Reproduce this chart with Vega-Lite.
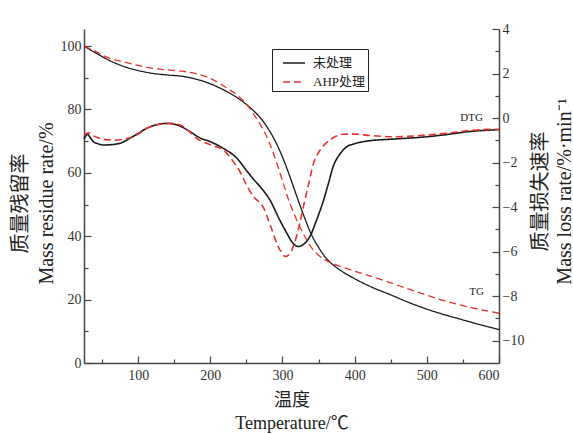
{
  "$schema": "https://vega.github.io/schema/vega-lite/v6.json",
  "width": 415,
  "height": 334,
  "autosize": "none",
  "padding": {"left": 84, "top": 29, "right": 74, "bottom": 71},
  "background": "white",
  "config": {
    "view": {"stroke": null},
    "font": "Liberation Serif, Noto Sans CJK SC",
    "axis": {
      "labelFont": "Liberation Serif",
      "labelFontSize": 14,
      "labelColor": "#333",
      "domainColor": "#444",
      "domainWidth": 1.5,
      "tickColor": "#444",
      "tickWidth": 1.2,
      "grid": false,
      "titleFont": "Liberation Serif, Noto Sans CJK SC",
      "titleFontSize": 20,
      "titleFontWeight": "normal",
      "titleColor": "#222"
    },
    "legend": {
      "title": null,
      "orient": "none",
      "legendX": 188,
      "legendY": 20,
      "symbolType": "stroke",
      "symbolSize": 484,
      "symbolStrokeWidth": 1.6,
      "symbolOffset": 8,
      "labelFont": "Liberation Serif, Noto Sans CJK SC",
      "labelFontSize": 13,
      "labelColor": "#222",
      "strokeColor": "#222",
      "padding": 2,
      "rowPadding": -8,
      "labelOffset": 7
    }
  },
  "datasets": {
    "curves": [
      {"T": 25, "v": 100, "type": "TG", "处理": "未处理"},
      {"T": 40, "v": 98, "type": "TG", "处理": "未处理"},
      {"T": 60, "v": 95.5, "type": "TG", "处理": "未处理"},
      {"T": 80, "v": 93.6, "type": "TG", "处理": "未处理"},
      {"T": 100, "v": 92.3, "type": "TG", "处理": "未处理"},
      {"T": 120, "v": 91.4, "type": "TG", "处理": "未处理"},
      {"T": 140, "v": 90.9, "type": "TG", "处理": "未处理"},
      {"T": 160, "v": 90.5, "type": "TG", "处理": "未处理"},
      {"T": 180, "v": 89.6, "type": "TG", "处理": "未处理"},
      {"T": 200, "v": 88.1, "type": "TG", "处理": "未处理"},
      {"T": 220, "v": 86, "type": "TG", "处理": "未处理"},
      {"T": 240, "v": 83.3, "type": "TG", "处理": "未处理"},
      {"T": 260, "v": 79.6, "type": "TG", "处理": "未处理"},
      {"T": 270, "v": 77.2, "type": "TG", "处理": "未处理"},
      {"T": 280, "v": 74, "type": "TG", "处理": "未处理"},
      {"T": 290, "v": 70, "type": "TG", "处理": "未处理"},
      {"T": 300, "v": 65, "type": "TG", "处理": "未处理"},
      {"T": 310, "v": 59, "type": "TG", "处理": "未处理"},
      {"T": 320, "v": 52.5, "type": "TG", "处理": "未处理"},
      {"T": 330, "v": 46.2, "type": "TG", "处理": "未处理"},
      {"T": 340, "v": 40.6, "type": "TG", "处理": "未处理"},
      {"T": 350, "v": 36.5, "type": "TG", "处理": "未处理"},
      {"T": 360, "v": 33.2, "type": "TG", "处理": "未处理"},
      {"T": 370, "v": 31, "type": "TG", "处理": "未处理"},
      {"T": 380, "v": 29.3, "type": "TG", "处理": "未处理"},
      {"T": 400, "v": 26.6, "type": "TG", "处理": "未处理"},
      {"T": 425, "v": 23.8, "type": "TG", "处理": "未处理"},
      {"T": 450, "v": 21.5, "type": "TG", "处理": "未处理"},
      {"T": 475, "v": 19.1, "type": "TG", "处理": "未处理"},
      {"T": 500, "v": 17, "type": "TG", "处理": "未处理"},
      {"T": 525, "v": 15.2, "type": "TG", "处理": "未处理"},
      {"T": 550, "v": 13.6, "type": "TG", "处理": "未处理"},
      {"T": 575, "v": 12, "type": "TG", "处理": "未处理"},
      {"T": 600, "v": 10.5, "type": "TG", "处理": "未处理"},

      {"T": 25, "v": 100, "type": "TG", "处理": "AHP处理"},
      {"T": 40, "v": 98.4, "type": "TG", "处理": "AHP处理"},
      {"T": 60, "v": 96.2, "type": "TG", "处理": "AHP处理"},
      {"T": 80, "v": 95, "type": "TG", "处理": "AHP处理"},
      {"T": 100, "v": 93.9, "type": "TG", "处理": "AHP处理"},
      {"T": 120, "v": 93, "type": "TG", "处理": "AHP处理"},
      {"T": 140, "v": 92.5, "type": "TG", "处理": "AHP处理"},
      {"T": 160, "v": 92.1, "type": "TG", "处理": "AHP处理"},
      {"T": 180, "v": 91.3, "type": "TG", "处理": "AHP处理"},
      {"T": 200, "v": 89.8, "type": "TG", "处理": "AHP处理"},
      {"T": 220, "v": 87.2, "type": "TG", "处理": "AHP处理"},
      {"T": 240, "v": 84, "type": "TG", "处理": "AHP处理"},
      {"T": 250, "v": 81.8, "type": "TG", "处理": "AHP处理"},
      {"T": 260, "v": 78.5, "type": "TG", "处理": "AHP处理"},
      {"T": 270, "v": 75, "type": "TG", "处理": "AHP处理"},
      {"T": 280, "v": 70.5, "type": "TG", "处理": "AHP处理"},
      {"T": 290, "v": 64.5, "type": "TG", "处理": "AHP处理"},
      {"T": 300, "v": 57.5, "type": "TG", "处理": "AHP处理"},
      {"T": 310, "v": 50.5, "type": "TG", "处理": "AHP处理"},
      {"T": 320, "v": 45, "type": "TG", "处理": "AHP处理"},
      {"T": 330, "v": 40.3, "type": "TG", "处理": "AHP处理"},
      {"T": 340, "v": 36.5, "type": "TG", "处理": "AHP处理"},
      {"T": 350, "v": 34, "type": "TG", "处理": "AHP处理"},
      {"T": 360, "v": 32.4, "type": "TG", "处理": "AHP处理"},
      {"T": 370, "v": 31.4, "type": "TG", "处理": "AHP处理"},
      {"T": 380, "v": 30.5, "type": "TG", "处理": "AHP处理"},
      {"T": 400, "v": 29, "type": "TG", "处理": "AHP处理"},
      {"T": 425, "v": 27.2, "type": "TG", "处理": "AHP处理"},
      {"T": 450, "v": 25.3, "type": "TG", "处理": "AHP处理"},
      {"T": 475, "v": 23.3, "type": "TG", "处理": "AHP处理"},
      {"T": 500, "v": 21.4, "type": "TG", "处理": "AHP处理"},
      {"T": 525, "v": 19.6, "type": "TG", "处理": "AHP处理"},
      {"T": 550, "v": 18.1, "type": "TG", "处理": "AHP处理"},
      {"T": 575, "v": 16.8, "type": "TG", "处理": "AHP处理"},
      {"T": 600, "v": 15.7, "type": "TG", "处理": "AHP处理"},

      {"T": 25, "v": -0.93, "type": "DTG", "处理": "未处理"},
      {"T": 28, "v": -0.78, "type": "DTG", "处理": "未处理"},
      {"T": 30, "v": -0.72, "type": "DTG", "处理": "未处理"},
      {"T": 33, "v": -0.85, "type": "DTG", "处理": "未处理"},
      {"T": 38, "v": -1.06, "type": "DTG", "处理": "未处理"},
      {"T": 45, "v": -1.16, "type": "DTG", "处理": "未处理"},
      {"T": 52, "v": -1.21, "type": "DTG", "处理": "未处理"},
      {"T": 60, "v": -1.2, "type": "DTG", "处理": "未处理"},
      {"T": 75, "v": -1.13, "type": "DTG", "处理": "未处理"},
      {"T": 89, "v": -0.9, "type": "DTG", "处理": "未处理"},
      {"T": 100, "v": -0.69, "type": "DTG", "处理": "未处理"},
      {"T": 112, "v": -0.46, "type": "DTG", "处理": "未处理"},
      {"T": 125, "v": -0.3, "type": "DTG", "处理": "未处理"},
      {"T": 140, "v": -0.24, "type": "DTG", "处理": "未处理"},
      {"T": 155, "v": -0.32, "type": "DTG", "处理": "未处理"},
      {"T": 172, "v": -0.61, "type": "DTG", "处理": "未处理"},
      {"T": 185, "v": -0.88, "type": "DTG", "处理": "未处理"},
      {"T": 200, "v": -1.06, "type": "DTG", "处理": "未处理"},
      {"T": 218, "v": -1.36, "type": "DTG", "处理": "未处理"},
      {"T": 237, "v": -1.81, "type": "DTG", "处理": "未处理"},
      {"T": 250, "v": -2.35, "type": "DTG", "处理": "未处理"},
      {"T": 260, "v": -2.75, "type": "DTG", "处理": "未处理"},
      {"T": 270, "v": -3.12, "type": "DTG", "处理": "未处理"},
      {"T": 283, "v": -3.7, "type": "DTG", "处理": "未处理"},
      {"T": 295, "v": -4.5, "type": "DTG", "处理": "未处理"},
      {"T": 306, "v": -5.17, "type": "DTG", "处理": "未处理"},
      {"T": 314, "v": -5.6, "type": "DTG", "处理": "未处理"},
      {"T": 322, "v": -5.77, "type": "DTG", "处理": "未处理"},
      {"T": 330, "v": -5.65, "type": "DTG", "处理": "未处理"},
      {"T": 338, "v": -5.32, "type": "DTG", "处理": "未处理"},
      {"T": 347, "v": -4.6, "type": "DTG", "处理": "未处理"},
      {"T": 357, "v": -3.68, "type": "DTG", "处理": "未处理"},
      {"T": 364, "v": -2.9, "type": "DTG", "处理": "未处理"},
      {"T": 370, "v": -2.2, "type": "DTG", "处理": "未处理"},
      {"T": 380, "v": -1.6, "type": "DTG", "处理": "未处理"},
      {"T": 390, "v": -1.27, "type": "DTG", "处理": "未处理"},
      {"T": 400, "v": -1.15, "type": "DTG", "处理": "未处理"},
      {"T": 420, "v": -1.02, "type": "DTG", "处理": "未处理"},
      {"T": 450, "v": -0.95, "type": "DTG", "处理": "未处理"},
      {"T": 500, "v": -0.84, "type": "DTG", "处理": "未处理"},
      {"T": 530, "v": -0.73, "type": "DTG", "处理": "未处理"},
      {"T": 555, "v": -0.62, "type": "DTG", "处理": "未处理"},
      {"T": 600, "v": -0.52, "type": "DTG", "处理": "未处理"},

      {"T": 25, "v": -0.76, "type": "DTG", "处理": "AHP处理"},
      {"T": 29, "v": -0.68, "type": "DTG", "处理": "AHP处理"},
      {"T": 32, "v": -0.66, "type": "DTG", "处理": "AHP处理"},
      {"T": 37, "v": -0.78, "type": "DTG", "处理": "AHP处理"},
      {"T": 47, "v": -0.91, "type": "DTG", "处理": "AHP处理"},
      {"T": 55, "v": -0.97, "type": "DTG", "处理": "AHP处理"},
      {"T": 66, "v": -0.99, "type": "DTG", "处理": "AHP处理"},
      {"T": 80, "v": -0.95, "type": "DTG", "处理": "AHP处理"},
      {"T": 89, "v": -0.88, "type": "DTG", "处理": "AHP处理"},
      {"T": 100, "v": -0.72, "type": "DTG", "处理": "AHP处理"},
      {"T": 112, "v": -0.46, "type": "DTG", "处理": "AHP处理"},
      {"T": 130, "v": -0.28, "type": "DTG", "处理": "AHP处理"},
      {"T": 144, "v": -0.24, "type": "DTG", "处理": "AHP处理"},
      {"T": 158, "v": -0.31, "type": "DTG", "处理": "AHP处理"},
      {"T": 170, "v": -0.58, "type": "DTG", "处理": "AHP处理"},
      {"T": 181, "v": -0.91, "type": "DTG", "处理": "AHP处理"},
      {"T": 192, "v": -1.1, "type": "DTG", "处理": "AHP处理"},
      {"T": 204, "v": -1.24, "type": "DTG", "处理": "AHP处理"},
      {"T": 218, "v": -1.43, "type": "DTG", "处理": "AHP处理"},
      {"T": 232, "v": -1.96, "type": "DTG", "处理": "AHP处理"},
      {"T": 241, "v": -2.4, "type": "DTG", "处理": "AHP处理"},
      {"T": 250, "v": -3.0, "type": "DTG", "处理": "AHP处理"},
      {"T": 260, "v": -3.53, "type": "DTG", "处理": "AHP处理"},
      {"T": 273, "v": -3.98, "type": "DTG", "处理": "AHP处理"},
      {"T": 283, "v": -4.8, "type": "DTG", "处理": "AHP处理"},
      {"T": 292, "v": -5.62, "type": "DTG", "处理": "AHP处理"},
      {"T": 298, "v": -6.0, "type": "DTG", "处理": "AHP处理"},
      {"T": 304, "v": -6.22, "type": "DTG", "处理": "AHP处理"},
      {"T": 310, "v": -6.1, "type": "DTG", "处理": "AHP处理"},
      {"T": 315, "v": -5.77, "type": "DTG", "处理": "AHP处理"},
      {"T": 322, "v": -5.0, "type": "DTG", "处理": "AHP处理"},
      {"T": 329, "v": -3.98, "type": "DTG", "处理": "AHP处理"},
      {"T": 336, "v": -3.0, "type": "DTG", "处理": "AHP处理"},
      {"T": 343, "v": -2.03, "type": "DTG", "处理": "AHP处理"},
      {"T": 352, "v": -1.45, "type": "DTG", "处理": "AHP处理"},
      {"T": 361, "v": -1.1, "type": "DTG", "处理": "AHP处理"},
      {"T": 372, "v": -0.85, "type": "DTG", "处理": "AHP处理"},
      {"T": 384, "v": -0.73, "type": "DTG", "处理": "AHP处理"},
      {"T": 400, "v": -0.72, "type": "DTG", "处理": "AHP处理"},
      {"T": 420, "v": -0.78, "type": "DTG", "处理": "AHP处理"},
      {"T": 454, "v": -0.84, "type": "DTG", "处理": "AHP处理"},
      {"T": 500, "v": -0.76, "type": "DTG", "处理": "AHP处理"},
      {"T": 530, "v": -0.67, "type": "DTG", "处理": "AHP处理"},
      {"T": 555, "v": -0.57, "type": "DTG", "处理": "AHP处理"},
      {"T": 600, "v": -0.5, "type": "DTG", "处理": "AHP处理"}
    ],
    "notes": [
      {"T": 562, "v": 0, "label": "DTG"},
      {"T": 569, "v": -7.82, "label": "TG"}
    ]
  },
  "data": {"name": "curves"},
  "encoding": {
    "x": {
      "field": "T",
      "type": "quantitative",
      "scale": {"domain": [25, 600], "nice": false, "zero": false},
      "axis": {
        "values": [50, 100, 150, 200, 250, 300, 350, 400, 450, 500, 550, 600],
        "labelExpr": "datum.value % 100 === 0 ? datum.label : ''",
        "tickSize": {"condition": {"test": "datum.value % 100 !== 0", "value": -4}, "value": -7},
        "labelPadding": 12,
        "title": ["温度", "Temperature/℃"],
        "titleFontSize": 18,
        "titleLineHeight": 23,
        "titleBaseline": "middle",
        "titleX": 207.5,
        "titleY": 37,
        "titleAlign": "center"
      }
    }
  },
  "layer": [
    {
      "transform": [{"filter": "datum.type === 'TG'"}],
      "mark": {"type": "line", "interpolate": "monotone", "strokeWidth": 1.3},
      "encoding": {
        "y": {
          "field": "v",
          "type": "quantitative",
          "scale": {"domain": [0, 105.4], "nice": false},
          "axis": {
            "orient": "left",
            "values": [0, 10, 20, 30, 40, 50, 60, 70, 80, 90, 100],
            "labelExpr": "datum.value % 20 === 0 ? datum.label : ''",
            "tickSize": {"condition": {"test": "datum.value % 20 !== 0", "value": -4}, "value": -7},
            "labelPadding": 10,
            "title": ["质量残留率", "Mass residue rate/%"],
            "titleAngle": -90,
            "titleBaseline": "middle",
            "titleAlign": "center",
            "titleLineHeight": 26,
            "titleX": -64,
            "titleY": 174
          }
        },
        "color": {
          "field": "处理",
          "type": "nominal",
          "scale": {"domain": ["未处理", "AHP处理"], "range": ["#1a1a1a", "#e8322c"]}
        },
        "strokeDash": {
          "field": "处理",
          "type": "nominal",
          "scale": {"domain": ["未处理", "AHP处理"], "range": [[1, 0], [7, 4]]}
        }
      }
    },
    {
      "encoding": {
        "y": {
          "field": "v",
          "type": "quantitative",
          "scale": {"domain": [-11, 4], "nice": false, "zero": false},
          "axis": {
            "orient": "right",
            "values": [-10, -9, -8, -7, -6, -5, -4, -3, -2, -1, 0, 1, 2, 3, 4],
            "labelExpr": "datum.value % 2 === 0 ? datum.label : ''",
            "tickSize": {"condition": {"test": "datum.value % 2 !== 0", "value": -4}, "value": -7},
            "labelPadding": 10,
            "title": ["质量损失速率", "Mass loss rate/%·min⁻¹"],
            "titleAngle": -90,
            "titleBaseline": "middle",
            "titleAlign": "center",
            "titleLineHeight": 24,
            "titleX": 41,
            "titleY": 162
          }
        }
      },
      "layer": [
        {
          "transform": [{"filter": "datum.type === 'DTG'"}],
          "mark": {"type": "line", "interpolate": "monotone", "strokeWidth": 1.6},
          "encoding": {
            "color": {
              "field": "处理",
              "type": "nominal",
              "scale": {"domain": ["未处理", "AHP处理"], "range": ["#1a1a1a", "#e8322c"]}
            },
            "strokeDash": {
              "field": "处理",
              "type": "nominal",
              "scale": {"domain": ["未处理", "AHP处理"], "range": [[1, 0], [7, 4]]}
            }
          }
        },
        {
          "data": {"name": "notes"},
          "mark": {"type": "text", "font": "Liberation Serif", "fontSize": 11, "color": "#222", "align": "center", "baseline": "middle"},
          "encoding": {
            "text": {"field": "label", "type": "nominal"}
          }
        }
      ]
    }
  ],
  "resolve": {"scale": {"y": "independent"}}
}
